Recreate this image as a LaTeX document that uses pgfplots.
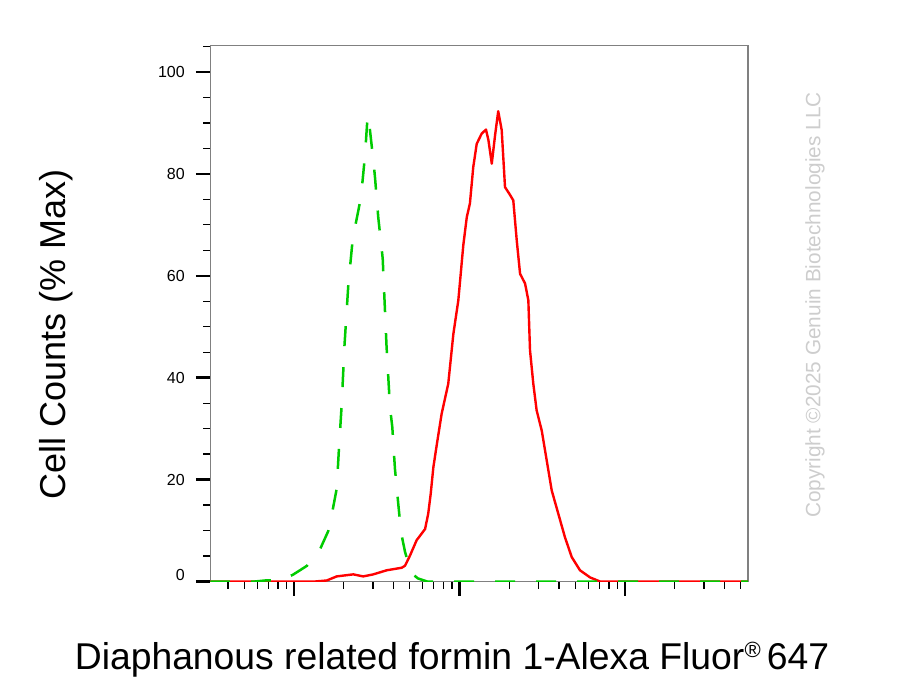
\documentclass[border=0pt]{standalone}
\usepackage{pgfplots}
\pgfplotsset{compat=1.18}
\usepackage{fontspec}
\setmainfont{Liberation Sans}
\definecolor{gline}{RGB}{0,204,0}
\definecolor{spine}{RGB}{128,128,128}
\definecolor{copyc}{RGB}{205,205,205}
\begin{document}
\begin{tikzpicture}[x=1pt,y=1pt]
\path (-210.5,-112.5) rectangle (700.5,581.5);
\begin{axis}[
  at={(0,0)}, anchor=south west,
  scale only axis, width=537.5pt, height=536pt,
  xmin=2.4955, xmax=5.7432, ymin=0, ymax=105.2,
  axis line style={spine, line width=1.6pt},
  tick align=outside,
  xtick pos=bottom, ytick pos=left,
  xtick={3,4,5}, xticklabels={},
  minor xtick={2.602,2.699,2.778,2.845,2.903,2.954,3.301,3.477,3.602,3.699,3.778,3.845,3.903,3.954,4.301,4.477,4.602,4.699,4.778,4.845,4.903,4.954,5.301,5.477,5.602,5.699},
  ytick={0,20,40,60,80,100},
  yticklabels={\raisebox{14pt}{0},20,40,60,80,100},
  minor ytick={5,10,15,25,30,35,45,50,55,65,70,75,85,90,95,105},
  major tick length=14.5pt, minor tick length=7pt,
  major tick style={black, line width=2.4pt},
  minor tick style={black, line width=1.3pt},
  /pgf/number format/assume math mode=true,
  yticklabel style={font=\fontsize{16}{18}\selectfont, anchor=east, inner sep=0pt, xshift=-11pt},
]
\addplot[red, line width=2.4pt, mark=none, line join=round] table {
2.492 0
3.127 0
3.198 0.2
3.258 1.0
3.358 1.4
3.419 1.0
3.479 1.4
3.560 2.2
3.651 2.7
3.671 3.1
3.701 5.1
3.741 8.1
3.792 10.3
3.811 13.3
3.826 17.2
3.842 22.4
3.862 26.7
3.892 32.9
3.932 38.8
3.963 48.6
3.993 55.2
4.023 66.0
4.044 71.5
4.063 74.2
4.083 81.3
4.104 85.9
4.134 87.9
4.160 88.7
4.175 86.6
4.195 82.0
4.215 87.6
4.234 92.3
4.255 88.6
4.275 77.4
4.301 76.1
4.325 74.8
4.346 66.9
4.366 60.4
4.396 58.5
4.416 55.2
4.426 45.4
4.446 38.8
4.466 33.6
4.497 29.6
4.517 25.7
4.557 17.9
4.597 13.3
4.637 8.7
4.678 4.8
4.728 2.2
4.789 0.8
4.849 0
5.743 0
};
\addplot[gline, line width=2.5pt, mark=none, dash pattern=on 20pt off 21pt] table {
2.492 0
2.764 0
2.825 0.2
2.915 0.2
2.992 1.3
3.036 2.2
3.079 3.1
3.121 4.7
3.157 6.3
3.207 9.9
3.234 14.1
3.258 18.2
3.272 26.3
3.288 34.6
3.305 46.3
3.328 58.1
3.355 67.3
3.382 71.7
3.405 75.5
3.429 83.6
3.445 91.5
3.459 88.6
3.476 83.6
3.489 79.5
3.509 71.5
3.536 63.4
3.559 46.3
3.580 34.2
3.594 30.3
3.610 22.1
3.634 13.9
3.647 9.6
3.671 5.8
3.707 1.7
3.749 0.6
3.804 0
5.743 0
};
\end{axis}
\node[rotate=90, font=\fontsize{36}{40}\selectfont] at (-154.5,247.5) {Cell Counts (\% Max)};
\node[font=\fontsize{37.3}{40}\selectfont] at (241.5,-78.5) {Diaphanous related formin 1-Alexa Fluor{\fontsize{22}{22}\selectfont\raisebox{0.55em}{®}}\,647};
\node[rotate=90, text=copyc, font=\fontsize{20.8}{24}\selectfont] at (604.5,276.5) {Copyright ©2025 Genuin Biotechnologies LLC};
\end{tikzpicture}
\end{document}
